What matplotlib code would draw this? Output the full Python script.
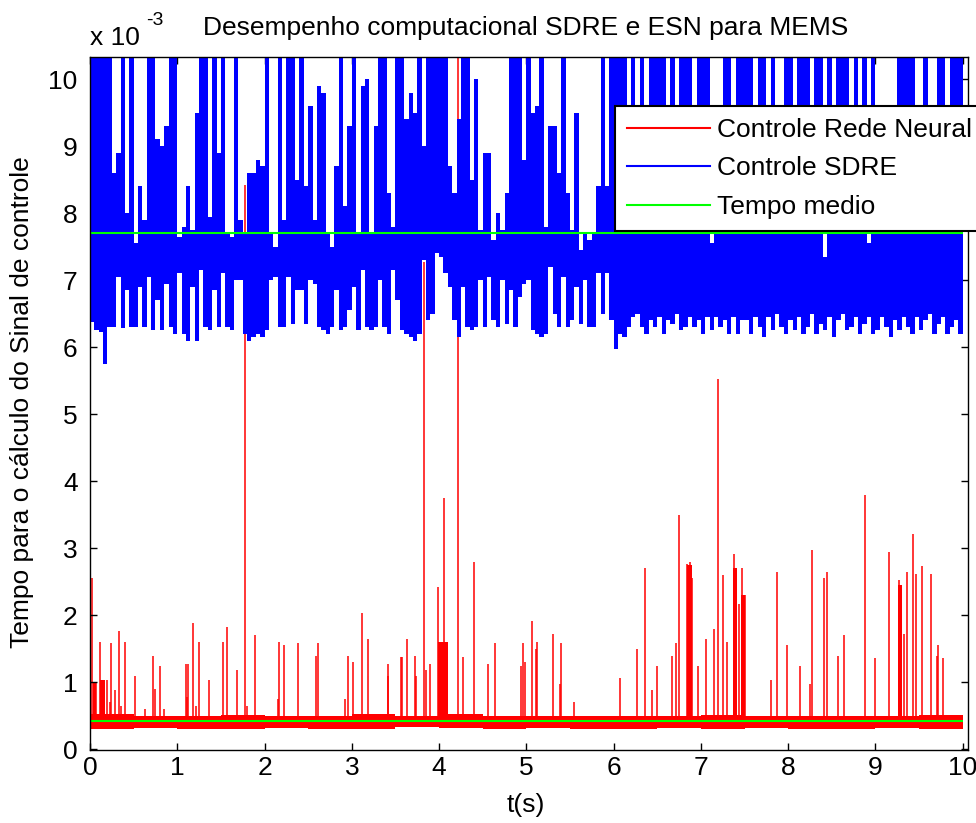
import numpy as np
import matplotlib
matplotlib.use("Agg")
import matplotlib.pyplot as plt
from matplotlib.lines import Line2D

plt.rcParams['font.family'] = ['Liberation Sans', 'DejaVu Sans']

# ---------------- data (x 1e-3 s) ----------------
title = "Desempenho computacional SDRE e ESN para MEMS"
xlabel = "t(s)"
ylabel = "Tempo para o cálculo do Sinal de controle"
legend_labels = ["Controle Rede Neural", "Controle SDRE", "Tempo medio"]
xticks = [0, 1, 2, 3, 4, 5, 6, 7, 8, 9, 10]
yticks = [0, 1, 2, 3, 4, 5, 6, 7, 8, 9, 10]

# SDRE: upper envelope per 0.05 s bin (t = 0 .. 10)
sdre_bin = 0.05
sdre_top_a = [10.5, 10.5, 10.5, 10.5, 10.5, 8.6, 8.9, 10.5, 8.0, 10.5,
              7.55, 8.4, 7.9, 10.5, 10.5, 9.1, 9.0, 9.3, 10.5, 10.5,
              7.65, 7.8, 8.4, 7.75, 9.5, 10.5, 10.5, 7.95, 10.5, 8.9,
              10.5, 7.7, 7.65, 10.5, 7.9, 7.7, 8.6, 8.6, 8.8, 8.7,
              10.5, 7.7, 7.5, 10.5, 7.9, 10.5, 10.5, 8.5, 10.5, 8.4]
sdre_top_b = [9.6, 7.9, 9.9, 9.8, 7.7, 7.5, 8.7, 10.5, 8.1, 9.3,
              10.5, 7.7, 9.9, 10.0, 7.7, 9.3, 10.5, 10.5, 8.3, 7.8,
              10.5, 10.5, 9.4, 9.8, 9.5, 10.5, 9.0, 10.5, 10.5, 10.5,
              10.5, 10.5, 8.7, 8.3, 9.4, 10.5, 10.5, 8.5, 10.0, 7.75,
              8.9, 8.9, 7.6, 8.0, 7.75, 8.3, 10.5, 10.5, 10.5, 8.8]
sdre_top_c = [10.5, 9.5, 9.6, 10.5, 7.8, 9.3, 9.3, 8.6, 10.5, 8.3,
              7.75, 9.5, 7.45, 7.7, 7.6, 7.7, 8.4, 10.5, 8.4, 10.5,
              10.5, 10.5, 10.5, 9.0, 10.5, 9.0, 10.5, 9.2, 10.5, 10.5,
              10.5, 10.5, 9.0, 10.5, 9.3, 10.5, 10.5, 10.5, 9.0, 10.5,
              10.5, 10.5, 7.55, 9.0, 9.2, 10.5, 10.5, 9.3, 10.5, 10.5]
sdre_top_d = [10.5, 10.5, 9.0, 10.5, 10.5, 9.2, 10.5, 9.0, 9.3, 10.5,
              10.5, 9.0, 10.5, 10.5, 10.5, 9.0, 10.5, 10.5, 7.35, 10.5,
              9.0, 10.5, 10.5, 10.5, 9.0, 10.5, 9.2, 10.5, 7.55, 10.5,
              9.0, 9.0, 9.0, 9.0, 9.1, 10.5, 10.5, 10.5, 10.5, 9.3,
              9.0, 10.5, 9.2, 9.0, 10.5, 10.5, 9.2, 10.5, 10.5, 10.5]
# SDRE: lower envelope per 0.05 s bin
sdre_bot_a = [6.38, 6.25, 6.22, 5.75, 6.3, 6.3, 7.05, 6.28, 6.85, 6.3,
              6.3, 6.9, 6.3, 7.05, 6.25, 6.7, 6.25, 6.95, 6.3, 6.2,
              7.1, 6.2, 6.1, 6.9, 6.1, 7.15, 6.3, 6.25, 6.85, 6.3,
              7.1, 6.3, 6.25, 7.0, 7.0, 6.2, 6.1, 6.15, 6.2, 6.15,
              6.25, 7.0, 7.05, 6.3, 6.3, 7.05, 6.35, 6.85, 6.85, 6.35]
sdre_bot_b = [7.0, 6.95, 6.3, 6.25, 6.2, 6.3, 6.85, 6.25, 6.3, 6.55,
              6.9, 6.25, 7.15, 6.3, 6.25, 6.3, 7.0, 6.3, 6.2, 7.15,
              6.7, 6.25, 6.2, 6.15, 6.1, 6.2, 7.3, 6.4, 6.5, 7.4,
              7.35, 7.1, 6.9, 6.4, 6.15, 6.9, 6.3, 6.25, 6.3, 7.0,
              6.3, 7.05, 6.4, 6.3, 7.0, 6.35, 6.85, 6.3, 6.75, 6.95]
sdre_bot_c = [7.0, 6.25, 6.2, 6.15, 6.2, 7.2, 6.5, 6.3, 7.05, 6.3,
              6.4, 6.9, 6.35, 7.0, 6.3, 6.3, 7.1, 6.5, 7.1, 6.4,
              5.98, 6.2, 6.15, 6.3, 6.45, 6.5, 6.3, 6.2, 6.4, 6.3,
              6.45, 6.2, 6.4, 6.35, 6.5, 6.25, 6.3, 6.45, 6.3, 6.4,
              6.2, 6.45, 6.25, 6.45, 6.3, 6.4, 6.2, 6.45, 6.2, 6.4]
sdre_bot_d = [6.4, 6.2, 6.45, 6.3, 6.15, 6.45, 6.25, 6.5, 6.3, 6.2,
              6.4, 6.25, 6.45, 6.2, 6.3, 6.5, 6.2, 6.35, 6.25, 6.45,
              6.15, 6.4, 6.5, 6.25, 6.3, 6.45, 6.2, 6.35, 6.45, 6.2,
              6.25, 6.45, 6.3, 6.15, 6.4, 6.25, 6.45, 6.3, 6.2, 6.45,
              6.25, 6.4, 6.5, 6.2, 6.35, 6.45, 6.2, 6.3, 6.4, 6.2]

# Neural network: base band per 0.5 s bin
esn_bin = 0.5
esn_base_low = [0.31, 0.32, 0.30, 0.31, 0.32, 0.31, 0.31, 0.33, 0.32, 0.31,
                0.32, 0.31, 0.31, 0.32, 0.31, 0.32, 0.31, 0.31, 0.32, 0.31]
esn_base_high = [0.52, 0.50, 0.49, 0.51, 0.49, 0.50, 0.52, 0.50, 0.53, 0.50,
                 0.49, 0.50, 0.49, 0.50, 0.51, 0.50, 0.49, 0.50, 0.50, 0.51]
# Neural network: spikes (time, peak)
esn_spike_t = [0.027, 0.05, 0.07, 0.12, 0.15, 0.19, 0.23, 0.24, 0.29, 0.33,
               0.36, 0.40, 0.52, 0.63, 0.72, 0.74, 0.80, 0.85, 1.10, 1.11,
               1.12, 1.18, 1.22, 1.25, 1.36, 1.52, 1.57, 1.68, 1.776, 1.80,
               1.89, 2.15, 2.17, 2.22, 2.38, 2.59, 2.61, 2.92, 2.96, 3.01,
               3.12, 3.18, 3.41, 3.42, 3.56, 3.58, 3.63, 3.72, 3.74, 3.83,
               3.85, 3.90, 3.99, 4.056, 4.22, 4.27, 4.40, 4.56, 4.64, 4.94,
               4.96, 4.98, 5.06, 5.11, 5.12, 5.31, 5.38, 5.40, 5.55, 6.07,
               6.27, 6.36, 6.44, 6.50, 6.67, 6.71, 6.75, 6.84, 6.87, 6.90,
               6.97, 7.06, 7.15, 7.20, 7.25, 7.30, 7.38, 7.40, 7.44, 7.47,
               7.50, 7.80, 7.87, 7.99, 8.13, 8.25, 8.27, 8.41, 8.45, 8.57,
               8.64, 8.88, 8.99, 9.15, 9.27, 9.29, 9.33, 9.36, 9.43, 9.46,
               9.53, 9.64, 9.70, 9.72, 9.77]
esn_spike_h = [2.55, 1.0, 1.0, 1.6, 1.03, 1.03, 0.7, 1.58, 0.88, 1.76,
               0.65, 1.6, 1.09, 0.6, 1.4, 0.9, 1.24, 0.6, 1.28, 0.78,
               1.28, 1.89, 0.65, 1.6, 1.03, 1.6, 1.83, 1.18, 8.42, 0.65,
               1.7, 0.75, 1.6, 1.55, 1.58, 1.4, 1.58, 0.75, 1.4, 1.3,
               2.04, 1.64, 1.28, 1.1, 1.38, 1.38, 1.64, 1.4, 1.1, 7.27,
               1.18, 1.28, 2.42, 3.75, 10.5, 1.38, 2.8, 1.28, 1.58, 1.24,
               1.58, 1.3, 1.92, 1.49, 1.6, 1.72, 0.98, 1.58, 0.7, 1.06,
               1.49, 2.7, 0.88, 1.24, 1.4, 1.58, 3.49, 2.77, 2.8, 2.55,
               1.24, 1.64, 1.79, 5.52, 2.6, 1.6, 2.91, 2.7, 2.17, 2.7,
               2.3, 1.03, 2.65, 1.55, 1.24, 0.98, 2.97, 2.55, 2.65, 1.4,
               1.7, 3.79, 1.37, 2.95, 2.52, 2.45, 1.72, 2.65, 3.22, 2.61,
               2.74, 2.61, 1.4, 1.55, 1.37]
# Neural network: dense bursts (start, end, level)
esn_burst_start = [0.03, 0.12, 3.99, 6.84, 7.37, 7.46, 9.26]
esn_burst_end = [0.07, 0.17, 4.10, 6.90, 7.41, 7.51, 9.30]
esn_burst_level = [1.0, 1.03, 1.6, 2.75, 2.7, 2.3, 2.45]

mean_sdre = 7.70
mean_esn = 0.43
t_end = 10.0

# ---------------- figure ----------------
W, H = 976, 823
fig = plt.figure(figsize=(W / 100, H / 100), dpi=100)
ax = fig.add_axes([90 / W, (H - 750) / H, (968 - 90) / W, (750 - 57) / H])

RED, BLUE, GREEN = (1, 0, 0), (0, 0, 1), (0, 1, 0)

# neural network series
esn_low = np.array(esn_base_low + [esn_base_low[-1]])
esn_high = np.array(esn_base_high + [esn_base_high[-1]])
esn_edges = np.arange(len(esn_low)) * esn_bin
ax.fill_between(esn_edges, esn_low, esn_high, step='post', color=RED, lw=0, zorder=1)
for s, e, lvl in zip(esn_burst_start, esn_burst_end, esn_burst_level):
    ax.fill_between([s, e], [mean_esn, mean_esn], [lvl, lvl], color=RED, lw=0, zorder=1)
ax.vlines(esn_spike_t, mean_esn, esn_spike_h, color=RED, lw=1.1, zorder=1)

# SDRE series
top = np.array(sdre_top_a + sdre_top_b + sdre_top_c + sdre_top_d)
bot = np.array(sdre_bot_a + sdre_bot_b + sdre_bot_c + sdre_bot_d)
edges = np.arange(len(top) + 1) * sdre_bin
ax.fill_between(edges, np.r_[bot, bot[-1]], np.r_[top, top[-1]], step='post',
                color=BLUE, lw=0, zorder=2)

# mean lines
ax.hlines([mean_esn, mean_sdre], 0, t_end, color=GREEN, lw=1.5, zorder=3)

ax.set_xlim(0, 10.06)
ax.set_ylim(-0.01, 10.33)
ax.set_xticks(xticks)
ax.set_yticks(yticks)
ax.set_xticklabels([str(v) for v in xticks])
ax.set_yticklabels([str(v) for v in yticks])
ax.tick_params(direction='in', length=5, width=1, top=True, right=True,
               labelsize=19, colors='black')
ax.tick_params(axis='x', pad=4)
ax.tick_params(axis='y', pad=9)
for sp in ax.spines.values():
    sp.set_linewidth(1.0)
    sp.set_zorder(5)

fig.text(526 / W, 1 - 28 / H, title, ha='center', va='center', fontsize=19)
fig.text(526 / W, 1 - 805 / H, xlabel, ha='center', va='center', fontsize=19)
fig.text(22 / W, 1 - 402 / H, ylabel, ha='center', va='center', rotation=90, fontsize=19)
fig.text(90 / W, 1 - 45 / H, "x 10", ha='left', va='baseline', fontsize=19)
fig.text(146 / W, 1 - 25 / H, "-3", ha='left', va='baseline', fontsize=14)

handles = [Line2D([], [], color=RED, lw=1.5),
           Line2D([], [], color=BLUE, lw=1.5),
           Line2D([], [], color=GREEN, lw=1.5)]
leg = ax.legend(handles, legend_labels, loc='upper left',
                bbox_to_anchor=(615 / W, 1 - 106 / H), bbox_transform=fig.transFigure,
                fontsize=19, frameon=True, fancybox=False, framealpha=1,
                edgecolor='black', borderpad=0.45, borderaxespad=0,
                handlelength=3.15, handletextpad=0.28, labelspacing=0.55)
leg.get_frame().set_linewidth(1.5)
leg.set_zorder(10)

fig.savefig("out.png", dpi=100)
